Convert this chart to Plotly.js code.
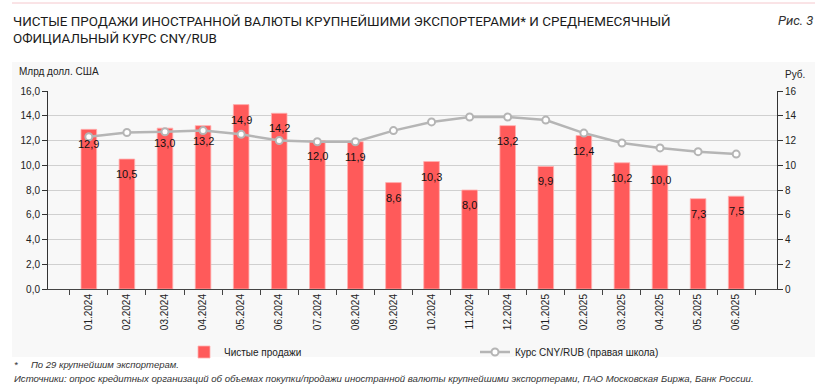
<!DOCTYPE html>
<html>
<head>
<meta charset="utf-8">
<script src="https://cdn.plot.ly/plotly-3.0.1.min.js"></script>
<style>html,body{margin:0;padding:0;background:#fff;}#chart{width:831px;height:387px;}</style>
</head>
<body>
<div id="chart"></div>
<script>
const months = ["01.2024","02.2024","03.2024","04.2024","05.2024","06.2024","07.2024","08.2024","09.2024","10.2024","11.2024","12.2024","01.2025","02.2025","03.2025","04.2025","05.2025","06.2025"];
const netSales = [12.9,10.5,13.0,13.2,14.9,14.2,12.0,11.9,8.6,10.3,8.0,13.2,9.9,12.4,10.2,10.0,7.3,7.5];
const cnyRub = [12.3,12.65,12.7,12.8,12.5,12.0,11.9,11.9,12.8,13.5,13.9,13.9,13.65,12.6,11.8,11.4,11.1,10.9];
const leftTicks = [0,2,4,6,8,10,12,14,16];

const W = 831, H = 387;
const L = 48, R = 54, T = 91, B = 98;
const pw = W - L - R, ph = H - T - B;
const px = x => (x - L) / pw;
const py = y => (H - B - y) / ph;

const FONT = "Liberation Sans, Arial, sans-serif";

const bars = {
  type: "bar", name: "Чистые продажи", x: months, y: netSales,
  marker: {color: "#ff5a5a", line: {color: "#ffb0b0", width: 0.8}},
  width: 0.41, hoverinfo: "skip"
};
const line = {
  type: "scatter", mode: "lines+markers", name: "Курс CNY/RUB (правая школа)",
  x: months, y: cnyRub, yaxis: "y2",
  line: {color: "#b5b5b5", width: 2.5},
  marker: {symbol: "circle", size: 7, color: "#ffffff", line: {color: "#b5b5b5", width: 2}},
  hoverinfo: "skip"
};

const annotations = netSales.map((v, i) => ({
  x: i, y: v, xref: "x", yref: "y", yanchor: "top", yshift: -7,
  text: v.toFixed(1).replace(".", ","), showarrow: false,
  font: {family: FONT, size: 11, color: "#111"}
}));

annotations.push(
  {xref: "paper", yref: "paper", x: px(11), y: py(12), xanchor: "left", yanchor: "top", align: "left",
   text: "ЧИСТЫЕ ПРОДАЖИ ИНОСТРАННОЙ ВАЛЮТЫ КРУПНЕЙШИМИ ЭКСПОРТЕРАМИ* И СРЕДНЕМЕСЯЧНЫЙ<br>ОФИЦИАЛЬНЫЙ КУРС CNY/RUB",
   showarrow: false, font: {family: "Roboto, sans-serif", size: 13.4, color: "#1a1a1a"}},
  {xref: "paper", yref: "paper", x: px(815), y: py(20), xanchor: "right", yanchor: "middle",
   text: "<i>Рис. 3</i>", showarrow: false, font: {family: "Roboto, sans-serif", size: 13, color: "#333"}},
  {xref: "paper", yref: "paper", x: px(17), y: py(72), xanchor: "left", yanchor: "middle",
   text: "Млрд долл. США", showarrow: false, font: {family: FONT, size: 10, color: "#222"}},
  {xref: "paper", yref: "paper", x: px(783), y: py(74), xanchor: "left", yanchor: "middle",
   text: "Руб.", showarrow: false, font: {family: FONT, size: 10, color: "#222"}},
  {xref: "paper", yref: "paper", x: px(12), y: py(364), xanchor: "left", yanchor: "middle",
   text: "<i>*     По 29 крупнейшим экспортерам.</i>", showarrow: false, font: {family: FONT, size: 9.5, color: "#333"}},
  {xref: "paper", yref: "paper", x: px(12), y: py(378), xanchor: "left", yanchor: "middle",
   text: "<i>Источники: опрос кредитных организаций об объемах покупки/продажи иностранной валюты крупнейшими экспортерами, ПАО Московская Биржа, Банк России.</i>",
   showarrow: false, font: {family: FONT, size: 9.6, color: "#333"}}
);

const shapes = [
  {type: "rect", xref: "paper", yref: "paper", x0: px(12), x1: px(815), y0: py(357), y1: py(62),
   fillcolor: "#f8f8f8", line: {width: 0}, layer: "below"},
  {type: "line", xref: "paper", yref: "paper", x0: px(12), x1: px(815), y0: py(3), y1: py(3),
   line: {color: "#f5c8cd", width: 1}}
];

const layout = {
  width: W, height: H,
  margin: {l: L, r: R, t: T, b: B, pad: 0},
  paper_bgcolor: "#ffffff", plot_bgcolor: "rgba(0,0,0,0)",
  separators: ", ",
  showlegend: true,
  legend: {orientation: "h", x: px(184), y: py(352), xanchor: "left", yanchor: "middle",
           entrywidth: 246, entrywidthmode: "pixels", bgcolor: "rgba(0,0,0,0)",
           font: {family: FONT, size: 10, color: "#222"}, traceorder: "normal"},
  bargap: 0.59,
  xaxis: {
    type: "category", tickson: "boundaries", ticks: "outside", ticklen: 5, tickcolor: "#444",
    showline: true, linecolor: "#444", linewidth: 1, tickangle: -90,
    tickfont: {family: FONT, size: 10, color: "#222"}, showgrid: false, fixedrange: true
  },
  yaxis: {
    range: [0, 16], tickvals: leftTicks, tickformat: ".1f", ticks: "outside", ticklen: 5, tickcolor: "#333",
    showline: true, linecolor: "#333", linewidth: 1, gridcolor: "#d0d0d0", gridwidth: 1, zeroline: false,
    tickfont: {family: FONT, size: 10, color: "#222"}
  },
  yaxis2: {
    range: [0, 16], tickvals: leftTicks, overlaying: "y", side: "right", ticks: "outside", ticklen: 5, tickcolor: "#333",
    showline: true, linecolor: "#333", linewidth: 1, showgrid: false, zeroline: false,
    tickfont: {family: FONT, size: 10, color: "#222"}
  },
  annotations: annotations,
  shapes: shapes
};

Plotly.newPlot("chart", [bars, line], layout, {staticPlot: true, displayModeBar: false});
</script>
</body>
</html>
